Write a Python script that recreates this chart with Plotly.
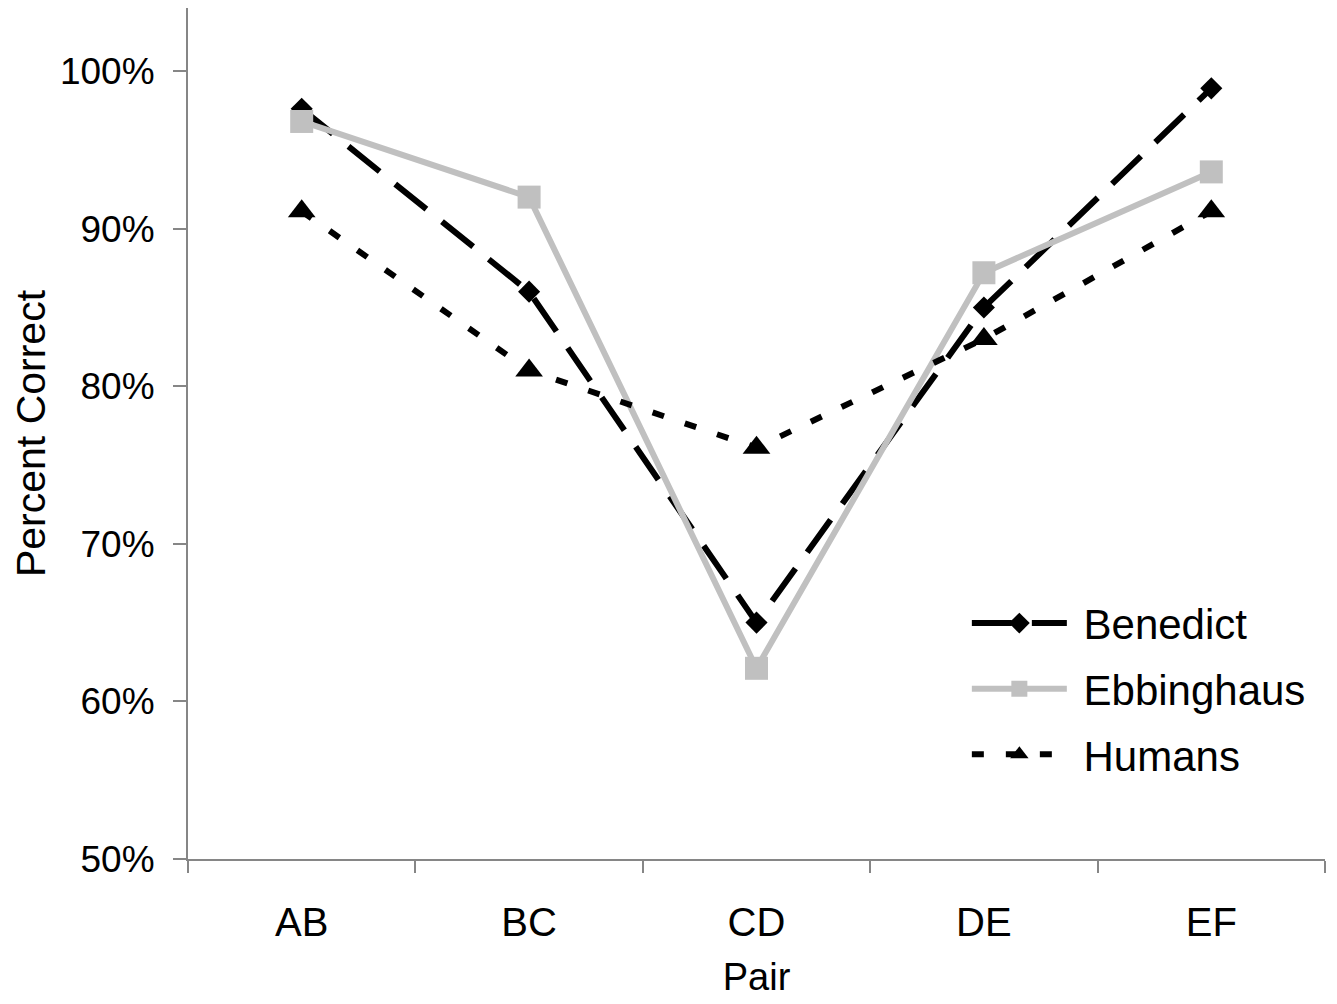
import plotly.graph_objects as go

pairs = ["AB", "BC", "CD", "DE", "EF"]
benedict = [97.6, 86.0, 65.0, 85.0, 98.9]
ebbinghaus = [96.8, 92.0, 62.1, 87.2, 93.6]
humans = [91.1, 81.0, 76.1, 83.0, 91.1]
ytick_vals = [50, 60, 70, 80, 90, 100]
ytick_text = ["50%", "60%", "70%", "80%", "90%", "100%"]

FONT = "Liberation Sans, Arial, sans-serif"

fig = go.Figure()
fig.add_trace(go.Scatter(
    x=pairs, y=benedict, name=" Benedict", mode="lines+markers",
    line=dict(color="black", width=6, dash="40px,20px"),
    marker=dict(symbol="diamond", size=17, color="black"),
    legendgroup="b"))
fig.add_trace(go.Scatter(
    x=pairs, y=ebbinghaus, name=" Ebbinghaus", mode="lines+markers",
    line=dict(color="#c0c0c0", width=6),
    marker=dict(symbol="square", size=23, color="#c0c0c0"),
    legendgroup="e"))
fig.add_trace(go.Scatter(
    x=pairs, y=humans, name=" Humans", mode="lines+markers",
    line=dict(color="black", width=6, dash="12px,22px"),
    marker=dict(symbol="triangle-up", size=24, color="black"),
    legendgroup="h"))

fig.update_layout(
    width=1337, height=1004,
    margin=dict(l=180, r=20, t=0, b=153, autoexpand=False),
    paper_bgcolor="white", plot_bgcolor="white",
    font=dict(family=FONT, size=37, color="black"),
    showlegend=True,
    legend=dict(
        x=0.685, y=0.20, xanchor="left", yanchor="middle",
        font=dict(family=FONT, size=42, color="black"),
        bgcolor="rgba(0,0,0,0)", itemwidth=95,
        traceorder="grouped", tracegroupgap=8,
    ),
    xaxis=dict(
        type="category", range=[-0.5, 4.5],
        showline=True, linecolor="#868686", linewidth=2,
        ticks="outside", tickson="boundaries", ticklen=12, tickwidth=2,
        tickcolor="#868686", showgrid=False, zeroline=False,
        title=dict(text="Pair", font=dict(family=FONT, size=38), standoff=20),
        tickfont=dict(family=FONT, size=40),
        ticklabelstandoff=27,
    ),
    yaxis=dict(
        range=[50, 104.0], tickvals=ytick_vals, ticktext=ytick_text,
        showline=True, linecolor="#868686", linewidth=2,
        ticks="outside", ticklen=13, tickwidth=2, tickcolor="#868686",
        showgrid=False, zeroline=False,
        title=dict(text="Percent Correct", font=dict(family=FONT, size=41), standoff=25),
        tickfont=dict(family=FONT, size=37),
        ticklabelstandoff=11,
    ),
)

fig.write_html("out.html")
